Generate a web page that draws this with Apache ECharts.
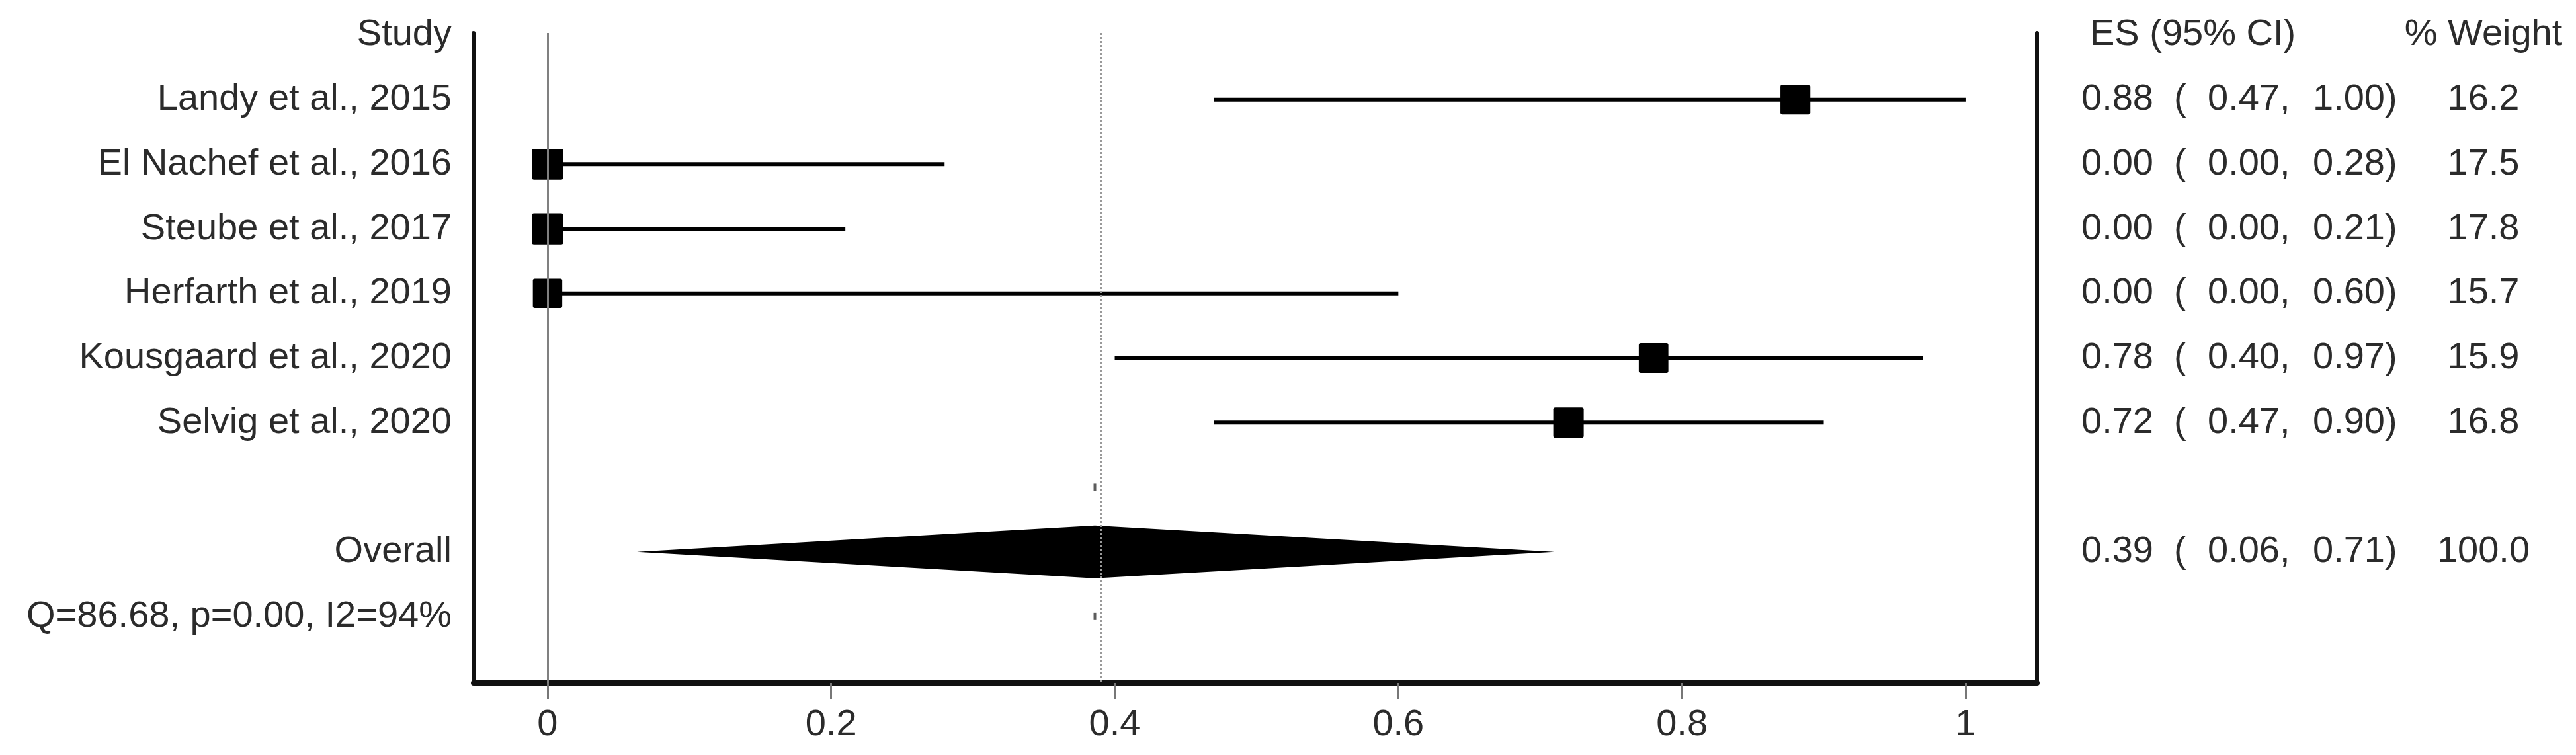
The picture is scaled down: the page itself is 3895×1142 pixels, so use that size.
<!DOCTYPE html>
<html>
<head>
<meta charset="utf-8">
<script src="https://cdn.jsdelivr.net/npm/echarts@6/dist/echarts.min.js"></script>
<style>
html, body { margin: 0; padding: 0; background: #fff; }
#main { width: 3895px; height: 1142px; }
</style>
</head>
<body>
<div id="main"></div>
<script>
// studies, top to bottom
const studies = ['Landy et al., 2015', 'El Nachef et al., 2016', 'Steube et al., 2017',
  'Herfarth et al., 2019', 'Kousgaard et al., 2020', 'Selvig et al., 2020'];
const es = [0.88, 0.00, 0.00, 0.00, 0.78, 0.72];
const ciLow = [0.47, 0.00, 0.00, 0.00, 0.40, 0.47];
const ciHigh = [1.00, 0.28, 0.21, 0.60, 0.97, 0.90];
const weight = [16.2, 17.5, 17.8, 15.7, 15.9, 16.8];

// pooled estimate
const overallES = 0.386;
const overallLow = 0.063;
const overallHigh = 0.71;
const overallWeight = 100.0;
const hetText = 'Q=86.68, p=0.00, I2=94%';

const xTicks = [0, 0.2, 0.4, 0.6, 0.8, 1];

// row 0 = header, 1..6 studies, 7 blank, 8 overall, 9 heterogeneity
const rowIdx = [0, 1, 2, 3, 4, 5, 6, 7, 8, 9];
const leftLabels = ['Study'].concat(studies, ['', 'Overall', hetText]);

const FONT = 'Liberation Sans, Arial, sans-serif';
const TXT = '#2b2b2b';

const rightLabel = (v) => {
  if (v === 0) return '{sp| }{h|ES (95% CI)}{w|% Weight}';
  let e, l, h, w;
  if (v >= 1 && v <= 6) {
    const i = v - 1;
    e = es[i]; l = ciLow[i]; h = ciHigh[i]; w = weight[i];
  } else if (v === 8) {
    e = overallES; l = overallLow; h = overallHigh; w = overallWeight;
  } else return '';
  return '{a|' + e.toFixed(2) + '}{b|(}{c|' + l.toFixed(2) + ',}{d|' + h.toFixed(2) + ')}{w|' + w.toFixed(1) + '}';
};

const txt = { fontSize: 56, fontFamily: FONT, color: TXT };

var chart = echarts.init(document.getElementById('main'));
var option = {
  backgroundColor: '#fff',
  animation: false,
  grid: { left: 716, top: 50, width: 2364, height: 983, outerBoundsMode: 'none' },
  xAxis: {
    type: 'value', min: -0.0522, max: 1.0504,
    axisLine: { onZero: false, lineStyle: { color: '#111', width: 8 } },
    axisTick: { show: true, customValues: xTicks, length: 24, lineStyle: { color: '#777', width: 3 } },
    axisLabel: {
      customValues: xTicks, margin: 36, fontSize: 56, fontFamily: FONT, color: TXT,
      formatter: (v) => String(+(+v).toFixed(1))
    },
    splitLine: { show: false }
  },
  yAxis: [
    {
      type: 'value', inverse: true, min: -0.03, max: 10.03, position: 'left',
      axisLine: { show: true, onZero: false, lineStyle: { color: '#111', width: 6 } },
      axisTick: { show: false }, splitLine: { show: false },
      axisLabel: {
        customValues: rowIdx, margin: 33, fontSize: 56, fontFamily: FONT, color: TXT,
        formatter: (v) => leftLabels[Math.round(v)]
      }
    },
    {
      type: 'value', inverse: true, min: -0.03, max: 10.03, position: 'right',
      axisLine: { show: true, onZero: false, lineStyle: { color: '#111', width: 6 } },
      axisTick: { show: false }, splitLine: { show: false },
      axisLabel: {
        customValues: rowIdx, margin: 67, fontFamily: FONT, color: TXT,
        formatter: (v) => rightLabel(Math.round(v)),
        rich: {
          sp: Object.assign({ width: 13 }, txt),
          h: Object.assign({ width: 495 }, txt),
          a: Object.assign({ width: 140 }, txt),
          b: Object.assign({ width: 51 }, txt),
          c: Object.assign({ width: 159 }, txt),
          d: Object.assign({ width: 158 }, txt),
          w: Object.assign({ width: 200, align: 'center' }, txt)
        }
      }
    }
  ],
  series: [
    {
      // reference lines: null effect and pooled estimate
      type: 'scatter',
      data: [[overallES, 7], [overallES, 9]],
      symbol: 'rect', symbolSize: [4, 11],
      itemStyle: { color: '#333' },
      silent: true,
      markLine: {
        symbol: 'none', silent: true, label: { show: false },
        data: [
          { xAxis: 0, lineStyle: { color: '#808080', width: 3, type: 'solid' } },
          { xAxis: overallES, lineStyle: { color: '#999', width: 3, type: 'dotted' } }
        ]
      },
      z: 1
    },
    {
      type: 'custom',
      data: studies.map((s, i) => [ciLow[i], ciHigh[i], es[i], i + 1, weight[i]]),
      encode: { x: [0, 1, 2], y: 3 },
      renderItem: (params, api) => {
        const lo = api.coord([api.value(0), api.value(3)]);
        const hi = api.coord([api.value(1), api.value(3)]);
        const c = api.coord([api.value(2), api.value(3)]);
        const s = 46 * Math.sqrt(api.value(4) / 16.8);
        return {
          type: 'group',
          children: [
            { type: 'line', shape: { x1: lo[0], y1: lo[1], x2: hi[0], y2: hi[1] },
              style: { stroke: '#000', lineWidth: 6 } },
            { type: 'rect', shape: { x: c[0] - s / 2, y: c[1] - s / 2, width: s, height: s, r: 3 },
              style: { fill: '#000' } }
          ]
        };
      },
      z: 3
    },
    {
      type: 'custom',
      data: [[overallLow, overallHigh, overallES, 8]],
      encode: { x: [0, 1, 2], y: 3 },
      renderItem: (params, api) => {
        const l = api.coord([api.value(0), api.value(3)]);
        const r = api.coord([api.value(1), api.value(3)]);
        const c = api.coord([api.value(2), api.value(3)]);
        const hh = 40;
        return {
          type: 'polygon',
          shape: { points: [[l[0], l[1]], [c[0], c[1] - hh], [r[0], r[1]], [c[0], c[1] + hh]] },
          style: { fill: '#000' }
        };
      },
      z: 3
    }
  ]
};
chart.setOption(option);
</script>
</body>
</html>
